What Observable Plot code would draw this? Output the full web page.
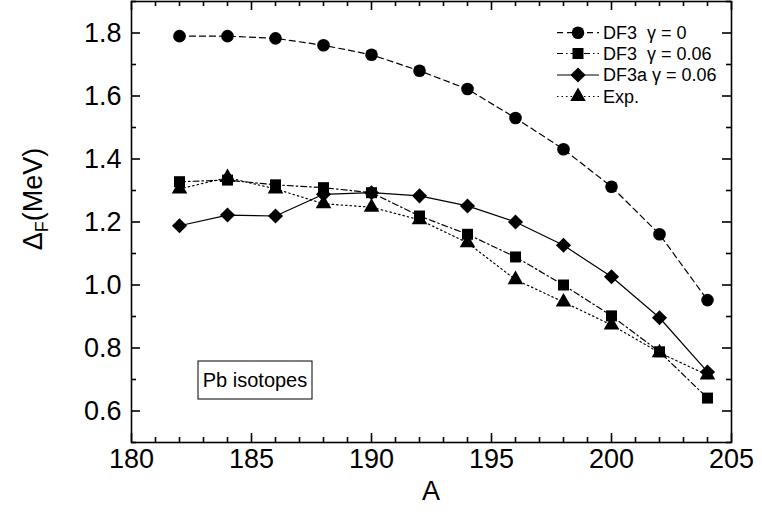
<!DOCTYPE html>
<html><head><meta charset="utf-8">
<script src="https://cdn.jsdelivr.net/npm/d3@7"></script>
<script src="https://cdn.jsdelivr.net/npm/@observablehq/plot@0.6"></script>
<style>body{margin:0;background:#fff}</style>
</head><body><div id="chart"></div>
<script>
// ---- data ----
const massNumbers = [182,184,186,188,190,192,194,196,198,200,202,204];
const df3Gamma0   = [1.790,1.790,1.783,1.761,1.731,1.680,1.622,1.530,1.431,1.312,1.161,0.952];
const df3Gamma006 = [1.328,1.333,1.318,1.309,1.293,1.219,1.161,1.089,1.000,0.902,0.788,0.641];
const df3aGamma006= [1.188,1.222,1.219,1.288,1.293,1.283,1.251,1.200,1.126,1.026,0.896,0.724];
const expValues   = [1.305,1.341,1.305,1.258,1.247,1.207,1.134,1.017,0.946,0.873,0.785,0.714];
const seriesNames = ["DF3  \u03b3 = 0", "DF3  \u03b3 = 0.06", "DF3a \u03b3 = 0.06", "Exp."];
const xMajorTicks = [180,185,190,195,200,205];
const xMinorTicks = [181,182,183,184,186,187,188,189,191,192,193,194,196,197,198,199,201,202,203,204];
const yMajorTicks = [0.6,0.8,1.0,1.2,1.4,1.6,1.8];
const yMinorTicks = [0.5,0.7,0.9,1.1,1.3,1.5,1.7,1.9];

const styles = [
  {symbol:"circle",   r:6.3, dash:"6,4"},
  {symbol:"square",   r:6.2, dash:"6,3,1.5,3"},
  {symbol:"diamond2", r:6.8, dash:null},
  {symbol:"triangle", r:5.8, dash:"1.5,3"}
];
const allValues = [df3Gamma0, df3Gamma006, df3aGamma006, expValues];
const rows = [];
allValues.forEach((vals, s) => vals.forEach((v, i) => rows.push({A: massNumbers[i], v, s})));

const W = 762, H = 512, ML = 131, MR = 31, MT = 1, MB = 70;
const PW = W - ML - MR, PH = H - MT - MB;
const major = 9, minor = 5;

const font = "'Liberation Sans', Arial, Helvetica, sans-serif";
const marks = [];
styles.forEach((st, s) => {
  const d = rows.filter(r => r.s === s);
  marks.push(Plot.line(d, {x:"A", y:"v", stroke:"black", strokeWidth:1.2, strokeDasharray: st.dash}));
});
styles.forEach((st, s) => {
  const d = rows.filter(r => r.s === s);
  marks.push(Plot.dot(d, {x:"A", y:"v", symbol: st.symbol, r: st.r, fill:"black", stroke:"none"}));
});
const tickStyle = {stroke:"black", strokeWidth:1.6};
const ticks = [
  Plot.tickX(xMajorTicks, {x: d => d, insetTop: PH - major, ...tickStyle}),
  Plot.tickX(xMinorTicks, {x: d => d, insetTop: PH - minor, ...tickStyle}),
  Plot.tickX(xMajorTicks, {x: d => d, insetBottom: PH - major, ...tickStyle}),
  Plot.tickX(xMinorTicks, {x: d => d, insetBottom: PH - minor, ...tickStyle}),
  Plot.tickY(yMajorTicks, {y: d => d, insetRight: PW - major, ...tickStyle}),
  Plot.tickY(yMinorTicks, {y: d => d, insetRight: PW - minor, ...tickStyle}),
  Plot.tickY(yMajorTicks, {y: d => d, insetLeft: PW - major, ...tickStyle}),
  Plot.tickY(yMinorTicks, {y: d => d, insetLeft: PW - minor, ...tickStyle})
];

const chart = Plot.plot({
  width: W, height: H,
  marginLeft: ML, marginRight: MR, marginTop: MT, marginBottom: MB,
  style: {fontFamily: font, background: "#fff", color: "black"},
  x: {domain: [180, 205], label: null},
  y: {domain: [0.5, 1.9], label: null},
  marks: [
    ...ticks,
    ...marks,
    Plot.axisX(xMajorTicks, {anchor:"bottom", tickSize:0, tickPadding: 6, fontSize: 27, label: null, tickFormat: d => String(d)}),
    Plot.axisY(yMajorTicks, {anchor:"left", tickSize:0, tickPadding: 10, fontSize: 27, label: null, tickFormat: d => d.toFixed(1)}),
    Plot.frame({stroke:"black", strokeWidth:1.6})
  ]
});
document.getElementById("chart").appendChild(chart);

const svg = d3.select(chart);
svg.append("text").attr("x", 431).attr("y", 500).attr("text-anchor","middle")
  .attr("font-size", 27).attr("font-family", font).attr("fill","black").text("A");
const yl = svg.append("text").attr("transform","translate(42,199) rotate(-90)")
  .attr("text-anchor","middle").attr("font-size", 27).attr("font-family", font).attr("fill","black");
yl.append("tspan").text("\u0394");
yl.append("tspan").attr("font-size", 18).attr("dy", 6).text("F");
yl.append("tspan").attr("dy", -6).text("(MeV)");

const legendRows = [32.7, 53.5, 75, 96.5];
styles.forEach((st, s) => {
  const y = legendRows[s];
  const g = svg.append("g");
  g.append("line").attr("x1", 557).attr("x2", 599).attr("y1", y).attr("y2", y)
    .attr("stroke","black").attr("stroke-width",1.2).attr("stroke-dasharray", st.dash);
  const symType = {circle:d3.symbolCircle, square:d3.symbolSquare, diamond2:d3.symbolDiamond2, triangle:d3.symbolTriangle}[st.symbol];
  g.append("path").attr("transform", `translate(578,${y})`)
    .attr("d", d3.symbol(symType, Math.PI * st.r * st.r)()).attr("fill","black");
  g.append("text").attr("x", 603).attr("y", y).attr("dy","0.35em").attr("text-anchor","start")
    .attr("font-size", 18).attr("font-family", font).attr("fill","black")
    .style("white-space","pre").text(seriesNames[s]);
});

svg.append("rect").attr("x", 198).attr("y", 361).attr("width", 114).attr("height", 38)
  .attr("fill","white").attr("stroke","black").attr("stroke-width",1);
svg.append("text").attr("x", 255).attr("y", 380).attr("dy","0.35em").attr("text-anchor","middle")
  .attr("font-size", 20).attr("font-family", font).attr("fill","black").text("Pb isotopes");
</script>
</body></html>
